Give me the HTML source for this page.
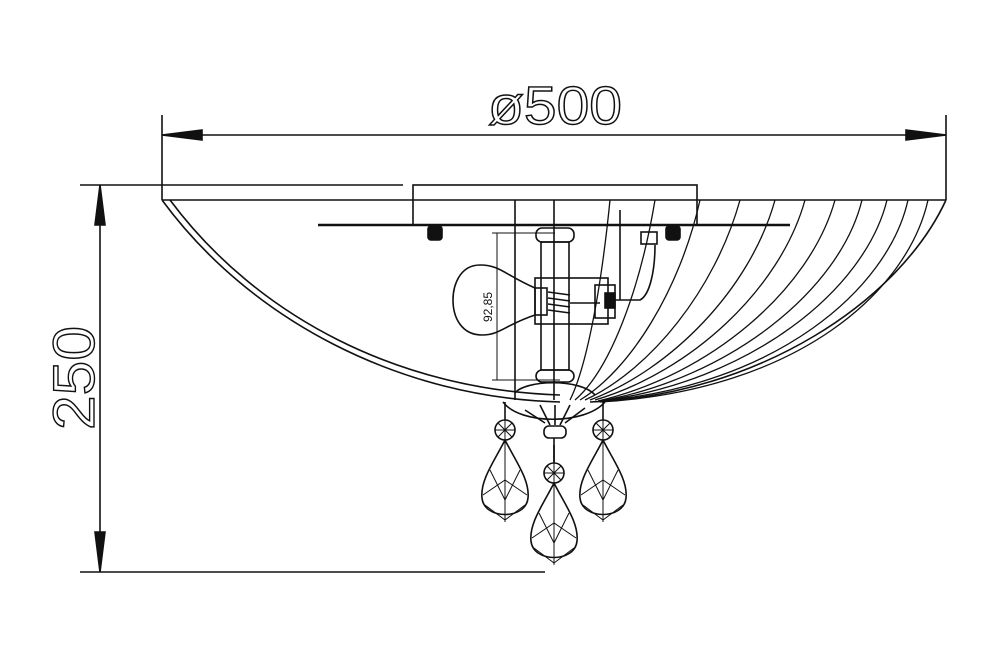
<!DOCTYPE html>
<html><head><meta charset="utf-8"><style>html,body{margin:0;padding:0;background:#fff}svg{display:block}</style></head>
<body>
<svg width="997" height="660" viewBox="0 0 997 660" xmlns="http://www.w3.org/2000/svg" fill="none" stroke="#111" stroke-width="1.6">
<!-- top dimension -->
<line x1="162" y1="115" x2="162" y2="200"/>
<line x1="946" y1="115" x2="946" y2="200"/>
<line x1="162" y1="135" x2="946" y2="135"/>
<polygon points="162,135 202,130 202,140" fill="#111"/>
<polygon points="946,135 906,130 906,140" fill="#111"/>
<text x="555" y="124" font-family="Liberation Sans, sans-serif" font-size="54" textLength="134" lengthAdjust="spacingAndGlyphs" fill="none" stroke="#111" stroke-width="1.4" text-anchor="middle">ø500</text>
<!-- left dimension -->
<line x1="80" y1="185" x2="403" y2="185"/>
<line x1="80" y1="572" x2="545" y2="572"/>
<line x1="100" y1="185" x2="100" y2="572"/>
<polygon points="100,185 95,225 105,225" fill="#111"/>
<polygon points="100,572 95,532 105,532" fill="#111"/>
<text transform="translate(94,378) rotate(-90)" font-family="Liberation Sans, sans-serif" font-size="58" textLength="104" lengthAdjust="spacingAndGlyphs" fill="none" stroke="#111" stroke-width="1.4" text-anchor="middle">250</text>
<!-- canopy -->
<rect x="413" y="185" width="284" height="40"/>
<line x1="162" y1="200" x2="946" y2="200"/>
<line x1="318" y1="225" x2="790" y2="225" stroke-width="2.5"/>
<rect x="428" y="226" width="14" height="14" rx="3" fill="#111"/>
<rect x="666" y="226" width="14" height="14" rx="3" fill="#111"/>
<!-- bowl -->
<path d="M162,200 C250,320 400,398 560,402"/>
<path d="M170,200 C258,318 400,390 560,395"/>
<path d="M946,200 C900,300 760,395 590,402"/>
<g stroke-width="1.3">
<path d="M610,200 C600,300 585,370 570,400"/>
<path d="M655,200 C640,290 610,370 575,400"/>
<path d="M700,200 C680,290 630,370 580,400"/>
<path d="M740,200 C715,290 650,370 585,400"/>
<path d="M775,200 C750,290 670,370 590,400"/>
<path d="M805,200 C780,290 690,372 595,400"/>
<path d="M835,200 C810,290 710,375 598,401"/>
<path d="M862,200 C840,290 730,378 600,401"/>
<path d="M887,200 C865,290 750,382 600,401"/>
<path d="M908,200 C888,290 775,386 600,401"/>
<path d="M928,200 C908,290 800,390 600,402"/>
</g>
<!-- center stem -->
<line x1="515" y1="200" x2="515" y2="400"/>
<line x1="554" y1="200" x2="554" y2="400"/>
<rect x="536" y="228" width="38" height="14" rx="6"/>
<rect x="541" y="242" width="28" height="128"/>
<rect x="536" y="370" width="38" height="12" rx="6"/>
<line x1="620" y1="210" x2="620" y2="300"/>
<!-- bulb -->
<path d="M535,288 C505,275 500,265 480,265 C460,265 453,285 453,300 C453,318 462,335 482,335 C500,335 505,325 535,315"/>
<rect x="535" y="278" width="73" height="46"/>
<rect x="535" y="288" width="12" height="27"/>
<path d="M548,292 l22,3 M548,298 l22,3 M548,304 l22,3 M548,310 l22,3"/>
<line x1="570" y1="303" x2="600" y2="303"/>
<rect x="595" y="285" width="20" height="33"/>
<rect x="605" y="293" width="10" height="15" fill="#111"/>
<path d="M615,300 L640,300 C650,295 655,270 655,245" />
<rect x="641" y="232" width="16" height="12"/>
<!-- 92,85 dimension -->
<line x1="492" y1="233" x2="555" y2="233" stroke-width="1"/>
<line x1="492" y1="380" x2="560" y2="380" stroke-width="1"/>
<line x1="497" y1="233" x2="497" y2="380" stroke-width="1"/>
<text transform="translate(492,307) rotate(-90)" font-family="Liberation Sans, sans-serif" font-size="12" fill="#111" stroke="none" text-anchor="middle">92,85</text>
<!-- bottom cup -->
<path d="M515,393 C525,380 580,378 595,395"/>
<path d="M503,402 C520,425 585,425 605,402"/>
<path d="M525,410 L545,423 M540,405 L550,425 M555,405 L555,425 M570,405 L560,425 M585,408 L565,423"/>
<rect x="544" y="426" width="22" height="12" rx="5"/>
<!-- crystals -->
<g id="cr">
<line x1="505" y1="402" x2="505" y2="420"/>
<circle cx="505" cy="430" r="10"/>
<path d="M495,430 h20 M505,420 v20 M498,423 l14,14 M512,423 l-14,14" stroke-width="1"/>
<path d="M505,440 C495,460 480,480 482,498 C484,520 526,520 528,498 C530,480 515,460 505,440 Z"/>
<path d="M505,440 V522 M490,470 L505,500 L520,470 M483,495 L505,480 L527,495 M485,505 L505,520 L525,505" stroke-width="1"/>
</g>
<use href="#cr" x="98" y="0"/>
<use href="#cr" x="49" y="43"/>
<line x1="554" y1="438" x2="554" y2="462"/>
</svg>
</body></html>
